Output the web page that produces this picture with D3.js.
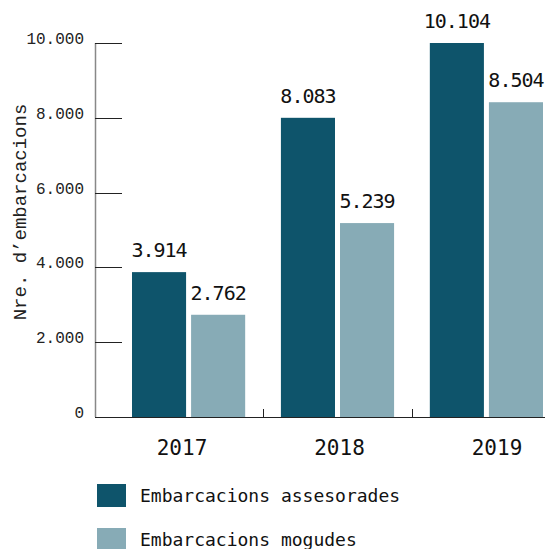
<!DOCTYPE html>
<html>
<head>
<meta charset="utf-8">
<script src="https://cdn.jsdelivr.net/npm/d3@7"></script>
<style>
  html, body { margin: 0; padding: 0; background: #fff; }
  svg { display: block; }
</style>
</head>
<body>
<div id="chart"></div>
<script>
const years = ["2017", "2018", "2019"];
const seriesNames = ["Embarcacions assesorades", "Embarcacions mogudes"];
const assessed = [3914, 8083, 10104];
const moved = [2762, 5239, 8504];
const yTicks = [0, 2000, 4000, 6000, 8000, 10000];
const yTickLabels = ["0", "2.000", "4.000", "6.000", "8.000", "10.000"];
const yTitle = "Nre. d\u2019embarcacions";
const colors = ["#0e546b", "#87abb6"];

const W = 545, H = 549;
const svg = d3.select("#chart").append("svg").attr("width", W).attr("height", H);

const fmt = v => d3.format(",")(v).replace(/,/g, ".");

const maxVal = d3.max(assessed.concat(moved));
// axis scale (ticks) and bar scale (bars reach the top at the max value)
const yAxisScale = d3.scaleLinear().domain([0, 10000]).range([417, 43]);
const y = d3.scaleLinear().domain([0, maxVal]).range([417, 43]);
const x0 = d3.scaleBand().domain(years).range([132, 543]).paddingInner(0.24).paddingOuter(0);
const x1 = d3.scaleBand().domain(seriesNames).range([0, x0.bandwidth()]).paddingInner(5 / 59).paddingOuter(0);
const xLab = d3.scalePoint().domain(years).range([182, 497]);

const data = years.map((yr, i) => ({ year: yr, values: [assessed[i], moved[i]] }));

// y axis line
svg.append("line").attr("x1", 95.5).attr("x2", 95.5).attr("y1", yAxisScale(10000)).attr("y2", yAxisScale(0))
  .attr("stroke", "#888").attr("stroke-width", 1.5);

// y ticks
const yt = svg.append("g");
yTicks.forEach((t, i) => {
  const ty = Math.round(yAxisScale(t)) + 0.5;
  yt.append("line").attr("x1", 95).attr("x2", 122).attr("y1", ty).attr("y2", ty)
    .attr("stroke", "#222").attr("stroke-width", 1);
  yt.append("text").attr("x", 84).attr("y", yAxisScale(t) + 1).attr("text-anchor", "end")
    .attr("font-family", "Liberation Mono").attr("font-size", 16).attr("fill", "#222")
    .text(yTickLabels[i]);
});

// y title
svg.append("text").attr("transform", `translate(26,212) rotate(-90)`)
  .attr("text-anchor", "middle").attr("font-family", "Liberation Mono").attr("font-size", 19)
  .attr("fill", "#222").text(yTitle);

// bars
const groups = svg.append("g").selectAll("g").data(data).join("g")
  .attr("transform", d => `translate(${x0(d.year)},0)`);
groups.selectAll("rect").data(d => d.values.map((v, j) => ({ v, s: seriesNames[j], j })))
  .join("rect")
  .attr("x", d => x1(d.s)).attr("width", x1.bandwidth())
  .attr("y", d => y(d.v)).attr("height", d => y(0) - y(d.v))
  .attr("fill", d => colors[d.j]);
groups.selectAll("text").data(d => d.values.map((v, j) => ({ v, s: seriesNames[j], j })))
  .join("text")
  .attr("x", d => x1(d.s) + x1.bandwidth() / 2).attr("y", d => y(d.v) - 15)
  .attr("text-anchor", "middle").attr("font-family", "DejaVu Sans Mono").attr("font-size", 20)
  .attr("letter-spacing", -1).attr("fill", "#111")
  .text(d => fmt(d.v));

// x axis baseline
svg.append("line").attr("x1", 95).attr("x2", W).attr("y1", y(0) + 0.5).attr("y2", y(0) + 0.5)
  .attr("stroke", "#222").attr("stroke-width", 1.2);
// separator ticks
years.slice(0, -1).forEach((yr, i) => {
  const xa = (x0(yr) + x0.bandwidth() + x0(years[i + 1])) / 2;
  svg.append("line").attr("x1", Math.round(xa) + 0.5).attr("x2", Math.round(xa) + 0.5)
    .attr("y1", y(0) - 8).attr("y2", y(0)).attr("stroke", "#222");
});
// year labels
svg.append("g").selectAll("text").data(years).join("text")
  .attr("x", d => xLab(d)).attr("y", 455).attr("text-anchor", "middle")
  .attr("font-family", "DejaVu Sans Mono").attr("font-size", 21).attr("fill", "#111")
  .text(d => d);

// legend
const leg = svg.append("g").selectAll("g").data(seriesNames).join("g")
  .attr("transform", (d, i) => `translate(97,${484 + i * 44})`);
leg.append("rect").attr("width", 29).attr("height", 23).attr("fill", (d, i) => colors[i]);
leg.append("text").attr("x", 43).attr("y", 18).attr("font-family", "DejaVu Sans Mono")
  .attr("font-size", 18).attr("fill", "#111").text(d => d);
</script>
</body>
</html>
